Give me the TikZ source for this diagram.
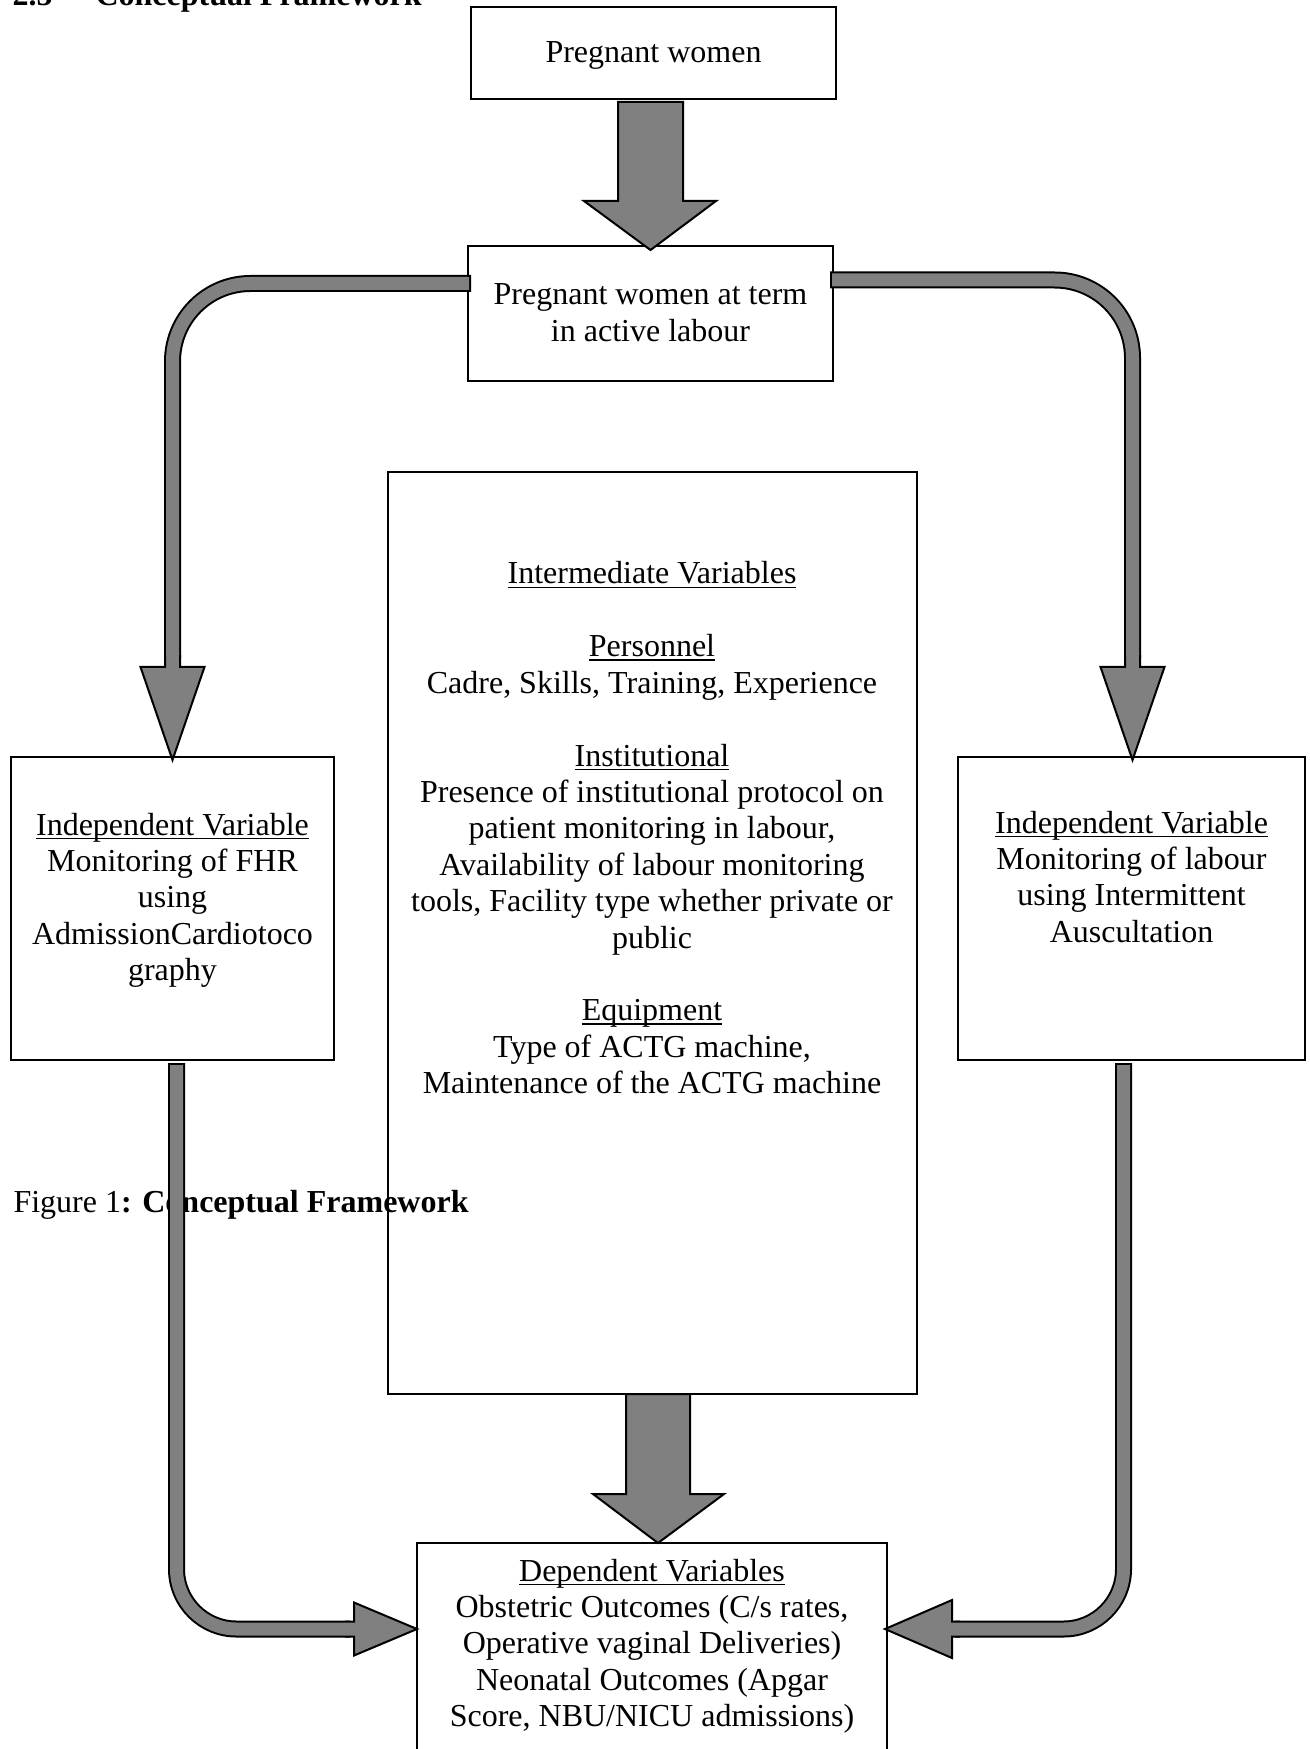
\documentclass[tikz,border=0pt]{standalone}
\usepackage{fontspec}
\setmainfont{Liberation Serif}
\usetikzlibrary{calc}
\definecolor{arrowgray}{HTML}{808080}
\newcommand\uln[1]{\leavevmode\setbox0\hbox{#1}\rlap{\rule[-1.6pt]{\wd0}{0.6pt}}\box0}
\newcommand\gapline{\\[13.65pt]}
\begin{document}
\begin{tikzpicture}[x=0.375pt,y=-0.375pt,
  box/.style={draw=black, line width=0.45pt, inner sep=0pt, outer sep=0pt},
  txt/.style={anchor=base, inner sep=0pt, font=\fontsize{12}{13.65}\selectfont},
  blockarrow/.style={fill=arrowgray, draw=black, line width=0.75pt, line join=miter},
  shaftblack/.style={draw=black, line width=6.375pt},
  shaftgray/.style={draw=arrowgray, line width=4.875pt}]
\useasboundingbox (0,0) rectangle (1309,1749);
\clip (0,0) rectangle (1309,1749);
% heading (cut at the top edge)
\node[anchor=base west, inner sep=0pt, font=\fontsize{12}{13.65}\selectfont] (h1) at (12,6) {\textbf{2.5}};
\node[anchor=base west, inner sep=0pt, font=\fontsize{12}{13.65}\selectfont] (h2) at (95,6) {\textbf{Conceptual Framework}};
% caption (under the shapes)
\node[anchor=base west, inner sep=0pt, font=\fontsize{12}{13.65}\selectfont] (cap) at (13,1212) {Figure 1\textbf{: Conceptual Framework}};
% boxes
\node[box, minimum width=365*0.375pt, minimum height=92*0.375pt] (b1) at (653.5,53) {};
\node[box, minimum width=365*0.375pt, minimum height=135*0.375pt] (b2) at (650.5,313.5) {};
\node[box, minimum width=529*0.375pt, minimum height=922*0.375pt] (bm) at (652.5,933) {};
\node[box, minimum width=323*0.375pt, minimum height=303*0.375pt] (bl) at (172.5,908.5) {};
\node[box, minimum width=347*0.375pt, minimum height=303*0.375pt] (br) at (1131.5,908.5) {};
\node[box, minimum width=470*0.375pt, minimum height=257*0.375pt] (b5) at (652,1671.5) {};
% texts
\node[txt] (t1) at (653.5,63) {Pregnant women};
\node[txt] (t2) at (650.5,305) {\parbox[t]{200pt}{\centering Pregnant women at term\\in active labour}};
\node[txt] (tl) at (172.5,835) {\parbox[t]{140pt}{\centering \uln{Independent Variable}\\Monitoring of FHR\\using\\AdmissionCardiotoco\\graphy}};
\node[txt] (tr) at (1131.5,833) {\parbox[t]{140pt}{\centering \uln{Independent Variable}\\Monitoring of labour\\using Intermittent\\Auscultation}};
\node[txt] (tm) at (652,584) {\parbox[t]{220pt}{\centering \uln{Intermediate Variables}\gapline
\uln{Personnel}\\Cadre, Skills, Training, Experience\gapline
\uln{Institutional}\\Presence of institutional protocol on\\patient monitoring in labour,\\Availability of labour monitoring\\tools, Facility type whether private or\\public\gapline
\uln{Equipment}\\Type of ACTG machine,\\Maintenance of the ACTG machine}};
\node[txt] (t5) at (652,1581) {\parbox[t]{220pt}{\centering \uln{Dependent Variables}\\Obstetric Outcomes (C/s rates,\\Operative vaginal Deliveries)\\Neonatal Outcomes (Apgar\\Score, NBU/NICU admissions)}};
% straight block arrows
\coordinate (tipA) at ($(b2.north)+(0,4)$);
\filldraw[blockarrow] (618,102) -- (618,201) -- (584,201) -- (tipA) -- (716,201) -- (683,201) -- (683,102) -- cycle;
\coordinate (tipB) at ($(b5.north)+(6,0)$);
\filldraw[blockarrow] (626,1394) -- (626,1494) -- (593,1494) -- (tipB) -- (724,1494) -- (690,1494) -- (690,1394) -- cycle;
% curved arrow: b2 -> bl
\draw[shaftblack, rounded corners=29.25pt] ($(b2.west)+(3,-30)$) -- (172.5,283.5) -- (172.5,658);
\draw[shaftgray, rounded corners=29.25pt] ($(b2.west)+(1,-30)$) -- (172.5,283.5) -- (172.5,658);
\coordinate (tipL) at ($(bl.north)+(0,3)$);
\filldraw[blockarrow] (165,655) -- (165,667) -- (140.5,667) -- (tipL) -- (204.5,667) -- (180,667) -- (180,655);
% curved arrow: b2 -> br
\draw[shaftblack, rounded corners=29.25pt] ($(b2.east)+(-3,-33.5)$) -- (1132.5,280) -- (1132.5,658);
\draw[shaftgray, rounded corners=29.25pt] ($(b2.east)+(-1,-33.5)$) -- (1132.5,280) -- (1132.5,658);
\coordinate (tipR) at ($(br.north)+(1,3)$);
\filldraw[blockarrow] (1125,655) -- (1125,667) -- (1100.5,667) -- (tipR) -- (1164.5,667) -- (1140,667) -- (1140,655);
% curved arrow: bl -> b5
\draw[shaftblack, rounded corners=22.5pt] (176.5,1063) -- (176.5,1629) -- (350,1629);
\draw[shaftgray, rounded corners=22.5pt] (176.5,1065) -- (176.5,1629) -- (350,1629);
\coordinate (tipD) at (b5.west |- 0,1629);
\filldraw[blockarrow] (345,1621.5) -- (354,1621.5) -- (354,1602.5) -- (tipD) -- (354,1655.5) -- (354,1636.5) -- (345,1636.5);
% curved arrow: br -> b5
\draw[shaftblack, rounded corners=22.5pt] (1123.5,1063) -- (1123.5,1629) -- (955,1629);
\draw[shaftgray, rounded corners=22.5pt] (1123.5,1065) -- (1123.5,1629) -- (955,1629);
\coordinate (tipE) at ($(b5.east |- 0,1629)+(-2,0)$);
\filldraw[blockarrow] (960,1621.5) -- (952,1621.5) -- (952,1600) -- (tipE) -- (952,1658) -- (952,1636.5) -- (960,1636.5);
\end{tikzpicture}
\end{document}
